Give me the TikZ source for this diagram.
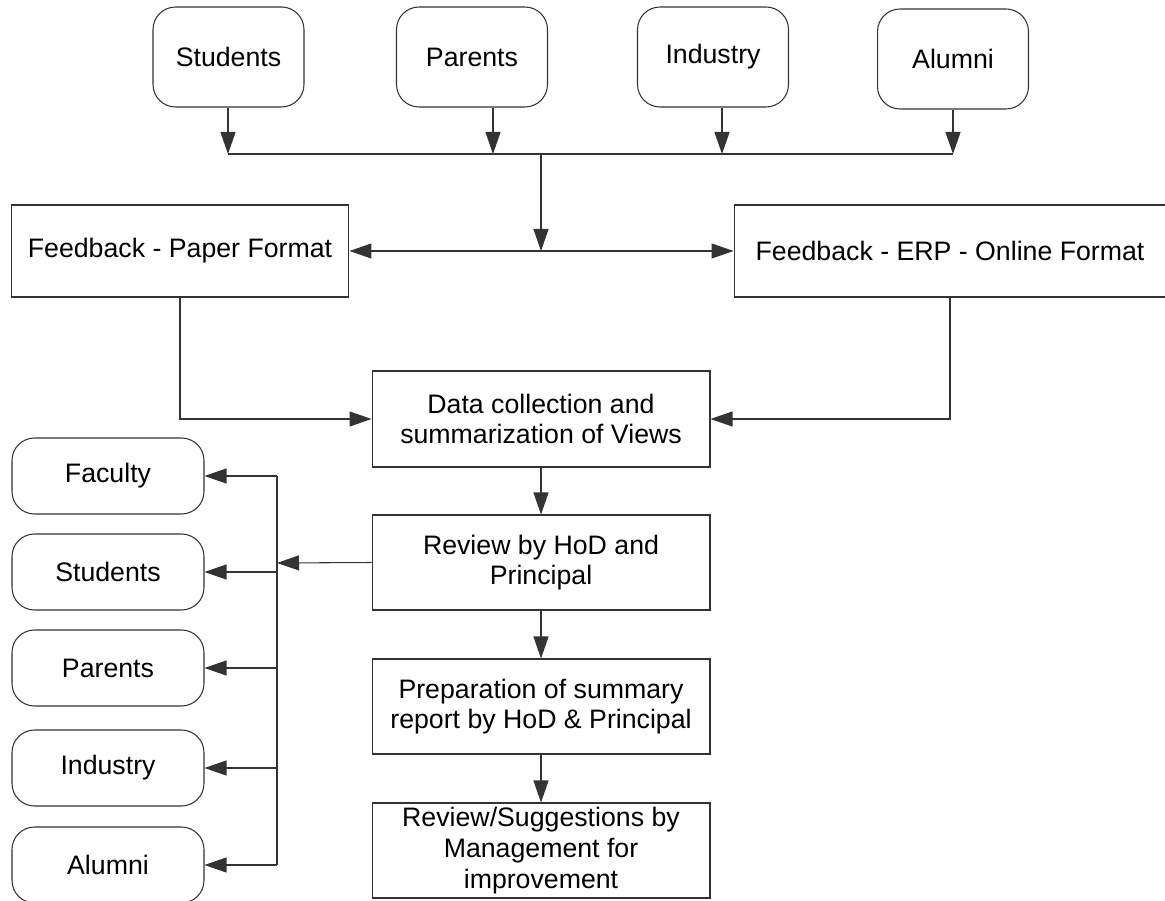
\documentclass[tikz,border=0pt]{standalone}
\usepackage{fontspec}
\setmainfont{Liberation Sans}
\usetikzlibrary{arrows.meta}

\tikzset{
  rbox/.style={draw=black!80, line width=0.6pt, rounded corners=0.45cm, align=center,
    font=\fontsize{15.2}{17.5}\selectfont, inner sep=2pt},
  sbox/.style={draw=black!80, line width=0.6pt, align=center,
    font=\fontsize{15.2}{17.5}\selectfont, inner sep=1pt},
  arr/.style={-{Triangle[length=0.44cm,width=0.3cm]}},
  wire/.style={draw=black!80, line width=0.6pt}
}

\begin{document}
\begin{tikzpicture}[x=0.02cm, y=-0.02cm]

    \useasboundingbox (0, 0) rectangle (1165, 901);

    \node[rbox, minimum width=3.02cm, minimum height=2cm] (s0) at (228.5, 57) {Students};
    \node[rbox, minimum width=3.02cm, minimum height=2cm] (s1) at (472, 57) {Parents};
    \node[rbox, minimum width=3.02cm, minimum height=2cm] (s2) at (713, 57) {Industry};
    \node[rbox, minimum width=3.02cm, minimum height=2cm] (s3) at (953, 59) {Alumni};

    \coordinate (b0) at (228, 154);
    \coordinate (b1) at (493, 154);
    \coordinate (b2) at (722, 154);
    \coordinate (b3) at (953, 154);
    \coordinate (j0) at (541, 154);
    \coordinate (j1) at (541, 251);

    \path[wire, arr] (s0.south -| b0) to (b0);
    \path[wire, arr] (s1.south -| b1) to (b1);
    \path[wire, arr] (s2.south -| b2) to (b2);
    \path[wire, arr] (s3.south -| b3) to (b3);
    \path[wire] (b0) to (b3);
    \path[wire, arr] (j0) to (j1);

    \node[sbox, minimum width=6.76cm, minimum height=1.84cm] (fp) at (180, 251) {Feedback - Paper Format};
    \node[sbox, minimum width=8.64cm, minimum height=1.84cm] (fe) at (950, 251) {Feedback - ERP - Online Format};

    \path[wire, arr] (j1) to (fp.east);
    \path[wire, arr] (j1) to (fe.west);

    \node[sbox, minimum width=6.76cm, minimum height=1.92cm] (dc) at (541, 419) {Data collection and\\summarization of Views};
    \node[sbox, minimum width=6.76cm, minimum height=1.9cm] (rv) at (541, 562.5) {Review by HoD and\\Principal};
    \node[sbox, minimum width=6.76cm, minimum height=1.9cm] (pr) at (541, 706.5) {Preparation of summary\\report by HoD \& Principal};
    \node[sbox, minimum width=6.76cm, minimum height=1.9cm] (mg) at (541, 850.5) {Review/Suggestions by\\Management for\\improvement};

    \path[wire, arr] (fp.south) |- (dc.west);
    \path[wire, arr] (fe.south) |- (dc.east);
    \path[wire, arr] (dc) to (rv);
    \path[wire, arr] (rv) to (pr);
    \path[wire, arr] (pr) to (mg);

    %feedback to stakeholders

    \node[rbox, minimum width=3.84cm, minimum height=1.52cm] (t0) at (108, 476) {Faculty};
    \node[rbox, minimum width=3.84cm, minimum height=1.52cm] (t1) at (108, 572) {Students};
    \node[rbox, minimum width=3.84cm, minimum height=1.52cm] (t2) at (108, 668) {Parents};
    \node[rbox, minimum width=3.84cm, minimum height=1.52cm] (t3) at (108, 768) {Industry};
    \node[rbox, minimum width=3.84cm, minimum height=1.52cm] (t4) at (108, 865) {Alumni};

    \coordinate (k) at (277, 563);

    \path[wire, arr] (rv.west) to (k);
    \path[wire] (t0.east -| k) to (t4.east -| k);
    \path[wire, arr] (t0.east -| k) to (t0.east);
    \path[wire, arr] (t1.east -| k) to (t1.east);
    \path[wire, arr] (t2.east -| k) to (t2.east);
    \path[wire, arr] (t3.east -| k) to (t3.east);
    \path[wire, arr] (t4.east -| k) to (t4.east);

  \end{tikzpicture}
\end{document}
